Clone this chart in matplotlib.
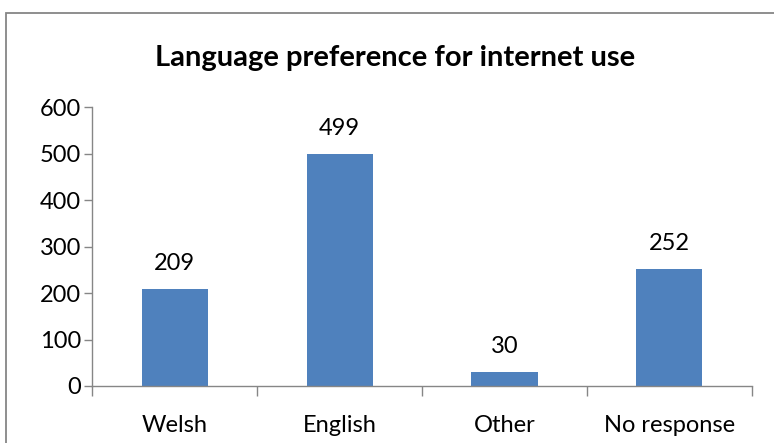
import matplotlib
matplotlib.use("Agg")
import matplotlib.pyplot as plt
from matplotlib.patches import Rectangle

categories = ["Welsh", "English", "Other", "No response"]
values = [209, 499, 30, 252]
yticks = [0, 100, 200, 300, 400, 500, 600]
title = "Language preference for internet use"

W, H = 774, 443
fig = plt.figure(figsize=(W/100, H/100), dpi=100)
plt.rcParams['font.family'] = ['Lato', 'DejaVu Sans']

# outer chart border (extends beyond right/bottom)
fig.patches.append(Rectangle((6/W, -0.1), 1.2, 1 - 13/H + 0.1, transform=fig.transFigure,
                             fill=False, edgecolor='#868686', linewidth=1.3))

ax = fig.add_axes([92/W, 1 - 386/H, 660/W, (386 - 107)/H])
x = list(range(len(categories)))
ax.bar(x, values, width=0.4, color='#4F81BD')
ax.set_xlim(-0.5, len(categories) - 0.5)
ax.set_ylim(0, 600)
ax.set_yticks(yticks)
ax.set_yticklabels([str(t) for t in yticks], fontsize=17)
ax.set_xticks(x)
ax.set_xticklabels(categories, fontsize=17)
ax.tick_params(axis='x', length=0, pad=21)
ax.tick_params(axis='y', length=6, color='#868686', width=1, pad=2)
# category boundary ticks
ax.set_xticks([i - 0.5 for i in range(len(categories) + 1)], minor=True)
ax.tick_params(axis='x', which='minor', length=7, color='#868686', width=1)
for s in ['top', 'right']:
    ax.spines[s].set_visible(False)
for s in ['left', 'bottom']:
    ax.spines[s].set_color('#868686')
    ax.spines[s].set_linewidth(1)

for xi, v in zip(x, values):
    ax.annotate(str(v), (xi, v), xytext=(0, 11), textcoords='offset points',
                ha='center', va='bottom', fontsize=17)

fig.text(395/W, 1 - 58/H, title, ha='center', va='center', fontsize=21, fontweight='bold')

fig.savefig("out.png", dpi=100, facecolor='white')
